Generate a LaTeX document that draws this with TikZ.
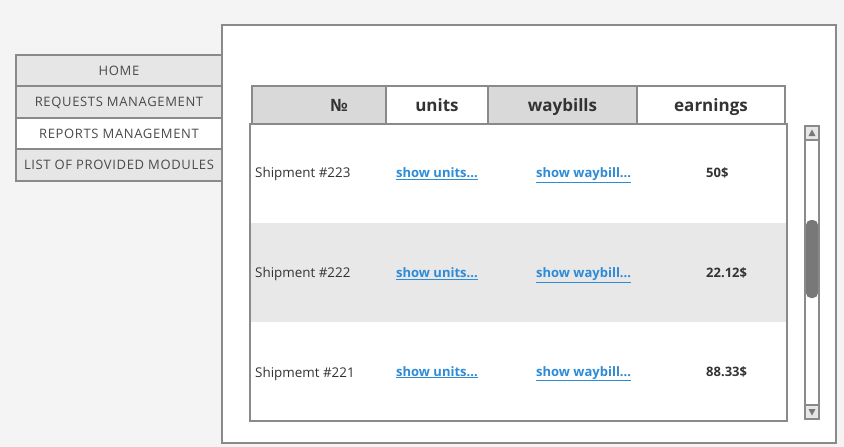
\documentclass[tikz,border=0pt]{standalone}
\usepackage{fontspec}
\setmainfont{Open Sans}
\usetikzlibrary{calc}
\definecolor{bg}{HTML}{F4F4F4}
\definecolor{bordergray}{HTML}{8A8A8A}
\definecolor{cellgray}{HTML}{D9D9D9}
\definecolor{menugray}{HTML}{E6E6E6}
\definecolor{rowgray}{HTML}{E8E8E8}
\definecolor{menutext}{HTML}{4A4A4A}
\definecolor{tabtext}{HTML}{333333}
\definecolor{linkblue}{HTML}{2E8BD6}
\definecolor{thumbgray}{HTML}{787878}
\begin{document}
\begin{tikzpicture}[x=1pt,y=-1pt,
  frame/.style={draw=bordergray, line width=2pt},
  menuitem/.style={frame, rectangle, minimum width=206pt, minimum height=31.5pt, inner sep=0pt,
    text height=11pt, text depth=2pt,
    font=\fontsize{13}{15}\selectfont\addfontfeatures{LetterSpace=5}, text=menutext},
  headcell/.style={frame, rectangle, minimum height=38pt, inner sep=0pt,
    text height=15pt, text depth=3pt,
    font=\fontsize{17}{19}\selectfont\bfseries, text=tabtext},
  rowband/.style={rectangle, minimum width=537pt, minimum height=99pt, inner sep=0pt},
  celltext/.style={anchor=base west, inner sep=0pt, font=\fontsize{13.4}{15}\selectfont, text=tabtext},
  linktext/.style={anchor=base west, inner sep=0pt, font=\fontsize{13}{15}\selectfont\bfseries, text=linkblue},
  money/.style={anchor=base west, inner sep=0pt, font=\fontsize{13}{15}\selectfont\bfseries, text=tabtext},
  scrollbtn/.style={frame, line width=1.5pt, fill=menugray, rectangle, minimum width=14pt, minimum height=14pt, inner sep=0pt},
]
\useasboundingbox[fill=bg] (0,0) rectangle (844,447);

% main panel
\node[frame, fill=white, rectangle, minimum width=614pt, minimum height=418pt, inner sep=0pt] (panel) at (529,234) {};

% menu
\node[menuitem, fill=menugray] (home) at (119,70.5) {HOME};
\node[menuitem, fill=menugray] (requests) at (119,102) {REQUESTS MANAGEMENT};
\node[menuitem, fill=white] (reports) at (119,133.5) {REPORTS MANAGEMENT};
\node[menuitem, fill=menugray] (modules) at (119,165) {LIST OF PROVIDED MODULES};

% header
\node[headcell, fill=cellgray, minimum width=134pt] (hnum) at (319,105) {};
\node[inner sep=0pt, text height=15pt, text depth=3pt, font=\fontsize{17}{19}\selectfont\bfseries, text=tabtext] (hnumtext) at (339,105) {№};
\node[headcell, fill=white, minimum width=102pt] (hunits) at (437,105) {units};
\node[headcell, fill=cellgray, minimum width=149pt] (hway) at (562.5,105) {waybills};
\node[headcell, fill=white, minimum width=148pt] (hearn) at (711,105) {earnings};

% body rows
\node[rowband, fill=white] (row1) at (518.5,173.5) {};
\node[rowband, fill=rowgray] (row2) at (518.5,272.5) {};
\node[rowband, fill=white] (row3) at (518.5,371.5) {};
\node[frame, rectangle, minimum width=537pt, minimum height=297pt, inner sep=0pt] (body) at (518.5,272.5) {};

% row 1
\node[celltext] (s1) at (255,177) {Shipment \#223};
\node[linktext] (u1) at (396,177.5) {\underline{show units...}};
\node[linktext] (w1) at (536,177.5) {\underline{show waybill...}};
\node[money] (e1) at (706,177.5) {50\$};
% row 2
\node[celltext] (s2) at (255,277) {Shipment \#222};
\node[linktext] (u2) at (396,277.5) {\underline{show units...}};
\node[linktext] (w2) at (536,277.5) {\underline{show waybill...}};
\node[money] (e2) at (706,277.5) {22.12\$};
% row 3
\node[celltext] (s3) at (255,377) {Shipmemt \#221};
\node[linktext] (u3) at (396,376) {\underline{show units...}};
\node[linktext] (w3) at (536,376) {\underline{show waybill...}};
\node[money] (e3) at (706,376) {88.33\$};

% scrollbar
\node[frame, rectangle, fill=white, minimum width=14pt, minimum height=293pt, inner sep=0pt] (track) at (812,272.5) {};
\node[scrollbtn] (up) at (812,133) {};
\node[scrollbtn] (down) at (812,412) {};
\fill[thumbgray] ($(up.center)+(-3.5,3)$) -- ($(up.center)+(3.5,3)$) -- ($(up.center)+(0,-3.5)$) -- cycle;
\fill[thumbgray] ($(down.center)+(-3.5,-3)$) -- ($(down.center)+(3.5,-3)$) -- ($(down.center)+(0,3.5)$) -- cycle;
\node[fill=thumbgray, rectangle, rounded corners=5pt, minimum width=12pt, minimum height=78pt, inner sep=0pt] (thumb) at (812,259) {};
\end{tikzpicture}
\end{document}
